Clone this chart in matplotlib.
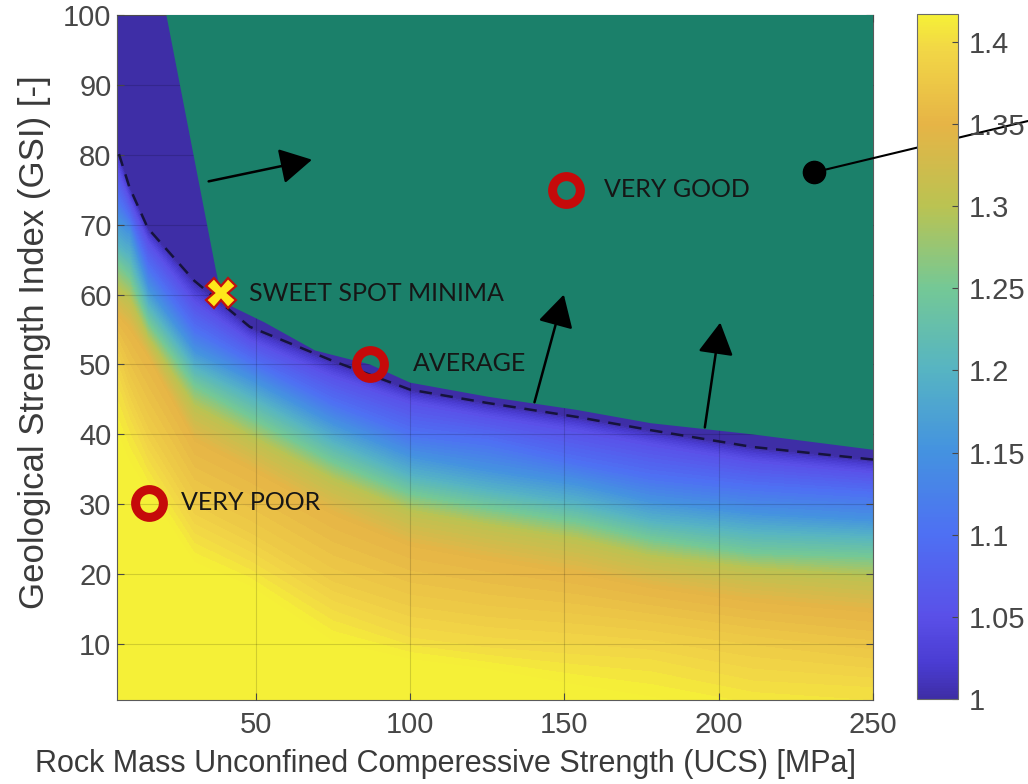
import numpy as np
import matplotlib
matplotlib.use("Agg")
import matplotlib.pyplot as plt
from matplotlib.colors import LinearSegmentedColormap, Normalize
from matplotlib.cm import ScalarMappable
from matplotlib.patches import Polygon

# ---------------- data ----------------
# UCS columns [MPa] at which iso-value GSI positions were read
ucs_cols = [5, 9, 15, 30, 48, 75, 100, 125, 154, 178, 211, 250]
# GSI where each colour-bar value lies, per UCS column
gsi_142 = [39, 35, 31, 21, 17.7, 9.6, 7.3, 5.9, 3.4, 1.5, -1, -3]
gsi_140 = [47, 42, 36, 25.5, 21.6, 14.5, 10.6, 9.2, 8.2, 7.5, 4.4, 3.5]
gsi_138 = [52, 47, 41, 30, 26, 19, 15.5, 14, 13, 12, 10, 8]
gsi_135 = [57, 55, 51, 39, 35, 28.5, 24, 22, 20, 18, 16, 14.5]
gsi_130 = [61, 59.5, 53.8, 44, 39.7, 33.5, 29, 27, 25, 22.5, 20.8, 19.6]
gsi_125 = [64.5, 62.5, 56, 47, 42.5, 36, 31.5, 29.5, 27.5, 25, 23, 22.5]
gsi_120 = [67, 65.5, 58.5, 49.5, 45.4, 38.8, 34, 32, 30, 27.5, 26, 25.3]
gsi_115 = [70.7, 69, 61, 52, 48, 41.6, 37, 35, 33, 30.5, 28.8, 27.8]
gsi_110 = [74, 71, 64, 55, 50.5, 44.5, 40.2, 39, 36, 34, 32.5, 31.5]
gsi_105 = [78, 73.5, 67.5, 59, 53.5, 48.3, 44.6, 42.6, 40.6, 38.6, 36.2, 34.6]
gsi_100 = [81, 75.4, 69.5, 62, 55.4, 50.5, 46.4, 44.5, 42.5, 40.6, 38.2, 36.4]
iso_levels = [1.45, 1.42, 1.40, 1.38, 1.35, 1.30, 1.25, 1.20, 1.15, 1.10, 1.05, 1.00, 0.90]

# green "acceptable" region outline (UCS, GSI)
green_ucs = [21, 37, 38.6, 42.2, 52.9, 69.2, 87, 100, 125, 154, 178, 211, 250, 250]
green_gsi = [100, 63.6, 60.2, 58.3, 56, 52, 50, 47.4, 45.4, 43.5, 41.6, 40, 37.8, 100]

# labelled rock-mass classes
class_names = ["VERY POOR", "AVERAGE", "VERY GOOD"]
class_ucs = [15.3, 87, 150.5]
class_gsi = [30.2, 50.1, 75]
sweet_name = "SWEET SPOT MINIMA"
sweet_ucs, sweet_gsi = 38.6, 60.2

# arrows (tail UCS, tail GSI, head UCS, head GSI)
arrow_tail_ucs = [34.7, 140.3, 195.5]
arrow_tail_gsi = [76.2, 44.6, 41.0]
arrow_head_ucs = [68.2, 149.8, 200.5]
arrow_head_gsi = [79.3, 60.0, 56.0]
dot_ucs, dot_gsi = 231, 77.5

cbar_ticks = [1.0, 1.05, 1.1, 1.15, 1.2, 1.25, 1.3, 1.35, 1.4]
cbar_labels = ["1", "1.05", "1.1", "1.15", "1.2", "1.25", "1.3", "1.35", "1.4"]

# ---------------- styling ----------------
cmap = LinearSegmentedColormap.from_list(
    "parula_like",
    [(0.00, "#3e2ea6"), (0.05, "#4a3cd2"), (0.12, "#5a50e8"), (0.24, "#4e70f3"),
     (0.36, "#4492e0"), (0.48, "#56b4c3"), (0.60, "#74c896"), (0.72, "#bac352"),
     (0.84, "#e6b446"), (0.95, "#f2d746"), (1.00, "#f5f037")])
cmap.set_under("#3e2ea6")
cmap.set_over("#f5f037")

TICK_FONT = "Liberation Sans"

fig = plt.figure(figsize=(10.28, 7.84), dpi=100)
ax = fig.add_axes([117 / 1028, 1 - 700 / 784, 756 / 1028, 685 / 784])

n = len(ucs_cols)
X = np.tile(np.asarray(ucs_cols, float), (len(iso_levels), 1))
Y = np.vstack([np.full(n, -10.0), gsi_142, gsi_140, gsi_138, gsi_135, gsi_130,
               gsi_125, gsi_120, gsi_115, gsi_110, gsi_105, gsi_100, np.full(n, 101.0)])
Z = np.tile(np.asarray(iso_levels, float)[:, None], (1, n))

vmin, vmax = 1.0, 1.417
norm = Normalize(vmin, vmax)
cf = ax.contourf(X, Y, Z, levels=np.linspace(vmin, vmax, 70), cmap=cmap, norm=norm,
                 extend="both", zorder=1)
ax.contour(X, Y, Z, levels=[1.0], colors="#16133c", linewidths=1.8,
           linestyles=[(0, (5, 3.5))], zorder=3.5)

ax.add_patch(Polygon(np.column_stack([green_ucs, green_gsi]), closed=True,
                     facecolor="#1b806a", edgecolor="none", zorder=3))

ax.set_xlim(5, 250)
ax.set_ylim(2, 100)
ax.set_xticks([50, 100, 150, 200, 250])
ax.set_yticks(range(10, 101, 10))
ax.set_axisbelow(False)
ax.grid(True, color="k", alpha=0.15, lw=0.8, zorder=2)
for s in ax.spines.values():
    s.set_color("#5a5a5a")
    s.set_linewidth(0.8)
ax.tick_params(direction="in", top=True, right=True, length=5, width=0.8,
               colors="#474747", labelsize=21)
ax.tick_params(axis="x", pad=8)
ax.tick_params(axis="y", pad=4)
for lab in ax.get_xticklabels() + ax.get_yticklabels():
    lab.set_family(TICK_FONT)

ax.set_xlabel("Rock Mass Unconfined Comperessive Strength (UCS) [MPa]",
              fontsize=22, color="#3a3a3a", family=TICK_FONT)
ax.set_ylabel("Geological Strength Index (GSI) [-]",
              fontsize=25, color="#3a3a3a", family=TICK_FONT)
ax.xaxis.set_label_coords((445 - 117) / 756, -0.072)
ax.yaxis.set_label_coords((51 - 117) / 756, 0.5226)

# class markers
ax.plot(class_ucs, class_gsi, ls="none", marker="o", ms=20, mfc="none",
        mec="#c50a0a", mew=6.5, zorder=6)
ax.plot([sweet_ucs], [sweet_gsi], ls="none", marker="X", ms=21, mfc="#ffe81a",
        mec="#c01010", mew=1.6, zorder=6)
text_kw = dict(fontsize=18, family="Lato", color="#161616", va="center", zorder=7)
ax.text(25.6, class_gsi[0], class_names[0], **text_kw)
ax.text(101, class_gsi[1], class_names[1], **text_kw)
ax.text(162.7, class_gsi[2], class_names[2], **text_kw)
ax.text(47.7, sweet_gsi, sweet_name, **text_kw)

for tx, ty, hx, hy in zip(arrow_tail_ucs, arrow_tail_gsi, arrow_head_ucs, arrow_head_gsi):
    ax.annotate("", xy=(hx, hy), xytext=(tx, ty),
                arrowprops=dict(arrowstyle="-|>,head_length=0.9,head_width=0.5",
                                mutation_scale=22, color="k", lw=1.8,
                                shrinkA=0, shrinkB=0), zorder=6)

ax.plot([dot_ucs], [dot_gsi], ls="none", marker="o", ms=16, color="k", zorder=6)
ax.annotate("", xy=(dot_ucs, dot_gsi), xycoords="data",
            xytext=(1.0, 1 - 121 / 784), textcoords="figure fraction",
            arrowprops=dict(arrowstyle="-", color="k", lw=1.5, shrinkA=0, shrinkB=0),
            annotation_clip=False, zorder=8)

# colour bar (continuous, no extensions)
cax = fig.add_axes([917 / 1028, 1 - 699 / 784, 41 / 1028, 685 / 784])
cb = fig.colorbar(ScalarMappable(norm=norm, cmap=cmap), cax=cax, ticks=cbar_ticks)
cb.ax.set_yticklabels(cbar_labels)
cb.outline.set_edgecolor("#6a6a6a")
cb.outline.set_linewidth(0.8)
cb.ax.tick_params(direction="in", length=4, width=0.8, colors="#474747",
                  labelsize=21, pad=8)
for lab in cb.ax.get_yticklabels():
    lab.set_family(TICK_FONT)

fig.savefig("out.png", dpi=100)
